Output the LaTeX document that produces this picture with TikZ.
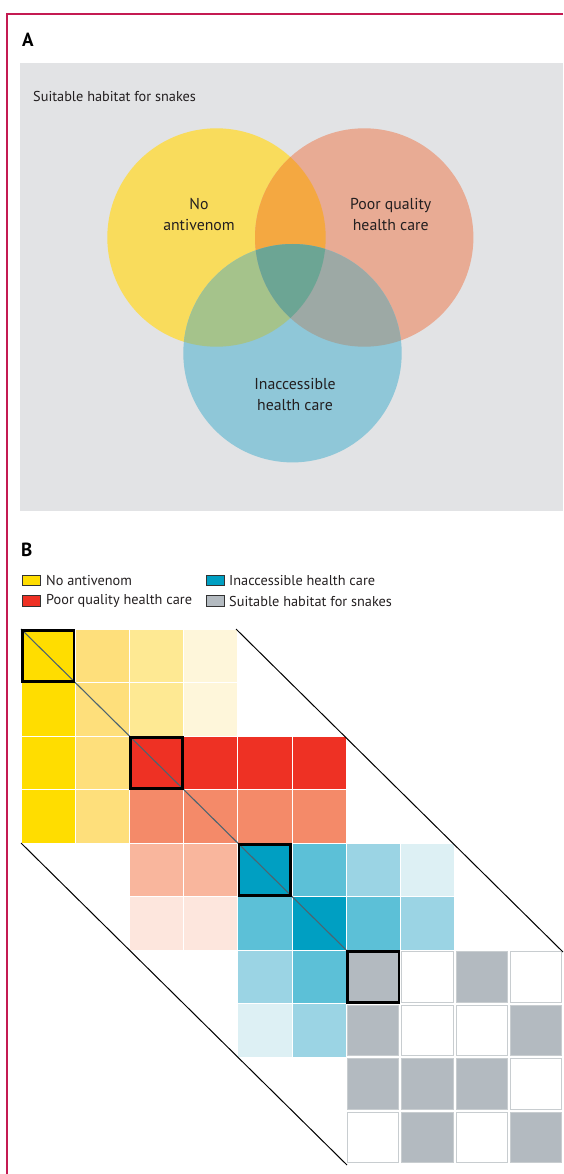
\documentclass[tikz,border=0pt]{standalone}
\usepackage{fontspec}
\setmainfont{PT Sans}
\definecolor{crimsonframe}{HTML}{C41A52}
\definecolor{panel}{HTML}{E2E3E5}
\definecolor{txt}{HTML}{231F20}
\definecolor{vyel}{HTML}{F9DC5C}
\definecolor{vsal}{HTML}{E8AB94}
\definecolor{vblu}{HTML}{8FC7D8}
\definecolor{vys}{HTML}{F4A841}
\definecolor{vyb}{HTML}{A5C38B}
\definecolor{vsb}{HTML}{9DA9A5}
\definecolor{vall}{HTML}{6CA594}
\definecolor{ya}{HTML}{FFDD00}
\definecolor{yb}{HTML}{FEDF7B}
\definecolor{yc}{HTML}{FEE993}
\definecolor{yd}{HTML}{FEF6DA}
\definecolor{ra}{HTML}{EE3124}
\definecolor{rb}{HTML}{F48A69}
\definecolor{rc}{HTML}{F9B69D}
\definecolor{rd}{HTML}{FDE6DD}
\definecolor{ba}{HTML}{009FC2}
\definecolor{bb}{HTML}{5CC0D7}
\definecolor{bc}{HTML}{9BD4E4}
\definecolor{bd}{HTML}{DDF0F4}
\definecolor{ga}{HTML}{B3BAC0}
\definecolor{gline}{HTML}{C8CDD0}
\definecolor{diag}{HTML}{4D6470}
\newcommand\gcell[3]{\fill[#3] ({21+#2*54.2+0.5},{629+#1*53.5+0.5}) rectangle ++(53.2,52.5);}
\newcommand\scell[3]{\filldraw[fill=#3, draw=gline, line width=0.9pt] ({21+#2*54.2+1.5},{629+#1*53.5+1.5}) rectangle ++(51.2,50.5);}
\newcommand\bcell[2]{\draw[black, line width=2.6pt] ({21+#2*54.2+1.3},{629+#1*53.5+1.3}) rectangle ++(51.6,50.9);}
\tikzset{
  lbl/.style={font=\fontsize{19}{21}\selectfont\bfseries, text=black, inner sep=0pt, anchor=west},
  vtxt/.style={font=\fontsize{15.8}{21}\selectfont, text=txt, align=center, inner sep=0pt},
  legtxt/.style={font=\fontsize{14.3}{16}\selectfont, text=txt, anchor=west, inner sep=0pt},
  legbox/.style={draw=black!80, line width=0.8pt}
}
\begin{document}
\begin{tikzpicture}[x=1pt,y=-1pt]
\useasboundingbox (0,0) rectangle (563,1174);
% frame
\draw[crimsonframe, line width=1.2pt] (563,14) -- (7,14) -- (7,1174);
% Panel A
\node[lbl] (labA) at (22,39.5) {A};
\fill[panel] (20,63) rectangle (563,510.5);
\node[font=\fontsize{14.3}{16}\selectfont, text=txt, anchor=west, inner sep=0pt] (hab) at (33,96) {Suitable habitat for snakes};
\fill[vyel] (216.5,237.5) circle (109.2pt);
\fill[vsal] (364.2,237.5) circle (109.2pt);
\fill[vblu] (292.5,353.2) circle (109.2pt);
\begin{scope}
  \clip (216.5,237.5) circle (109.2pt);
  \fill[vys] (364.2,237.5) circle (109.2pt);
  \fill[vyb] (292.5,353.2) circle (109.2pt);
\end{scope}
\begin{scope}
  \clip (364.2,237.5) circle (109.2pt);
  \fill[vsb] (292.5,353.2) circle (109.2pt);
\end{scope}
\begin{scope}
  \clip (216.5,237.5) circle (109.2pt);
  \clip (364.2,237.5) circle (109.2pt);
  \fill[vall] (292.5,353.2) circle (109.2pt);
\end{scope}
\node[vtxt] (nav) at (199,214.5) {No\\antivenom};
\node[vtxt] (pqh) at (390.7,214.5) {Poor quality\\health care};
\node[vtxt] (ihc) at (295,394.5) {Inaccessible\\health care};
% Panel B
\node[lbl] (labB) at (21,550) {B};
\draw[legbox, fill=ya] (22.7,575) rectangle (40.7,585.7);
\draw[legbox, fill=ra] (22.7,595.5) rectangle (40.7,606.2);
\draw[legbox, fill=ba] (206,575) rectangle (224,585.7);
\draw[legbox, fill=ga] (206,595.5) rectangle (224,606.2);
\node[legtxt] (l1) at (46,580.5) {No antivenom};
\node[legtxt] (l2) at (46,601) {Poor quality health care};
\node[legtxt] (l3) at (229,580.5) {Inaccessible health care};
\node[legtxt] (l4) at (229,601) {Suitable habitat for snakes};
% yellow block
\gcell{0}{0}{ya}\gcell{0}{1}{yb}\gcell{0}{2}{yc}\gcell{0}{3}{yd}
\gcell{1}{0}{ya}\gcell{1}{1}{yb}\gcell{1}{2}{yc}\gcell{1}{3}{yd}
\gcell{2}{0}{ya}\gcell{2}{1}{yb}
\gcell{3}{0}{ya}\gcell{3}{1}{yb}
% red block
\gcell{2}{2}{ra}\gcell{2}{3}{ra}\gcell{2}{4}{ra}\gcell{2}{5}{ra}
\gcell{3}{2}{rb}\gcell{3}{3}{rb}\gcell{3}{4}{rb}\gcell{3}{5}{rb}
\gcell{4}{2}{rc}\gcell{4}{3}{rc}
\gcell{5}{2}{rd}\gcell{5}{3}{rd}
% blue block
\gcell{4}{4}{ba}\gcell{4}{5}{bb}\gcell{4}{6}{bc}\gcell{4}{7}{bd}
\gcell{5}{4}{bb}\gcell{5}{5}{ba}\gcell{5}{6}{bb}\gcell{5}{7}{bc}
\gcell{6}{4}{bc}\gcell{6}{5}{bb}
\gcell{7}{4}{bd}\gcell{7}{5}{bc}
% gray block
\scell{6}{6}{ga}\scell{6}{7}{white}\scell{6}{8}{ga}\scell{6}{9}{white}
\scell{7}{6}{ga}\scell{7}{7}{white}\scell{7}{8}{white}\scell{7}{9}{ga}
\scell{8}{6}{ga}\scell{8}{7}{ga}\scell{8}{8}{ga}\scell{8}{9}{white}
\scell{9}{6}{white}\scell{9}{7}{ga}\scell{9}{8}{white}\scell{9}{9}{ga}
% diagonal
\draw[diag, line width=1.1pt] (21,629) -- ({21+6*54.2},{629+6*53.5});
% bold boxes
\bcell{0}{0}\bcell{2}{2}\bcell{4}{4}\bcell{6}{6}
% outer lines
\draw[black, line width=1pt] (236,629) -- (563,952);
\draw[black, line width=1pt] (21,843) -- (347,1165);
\end{tikzpicture}
\end{document}
